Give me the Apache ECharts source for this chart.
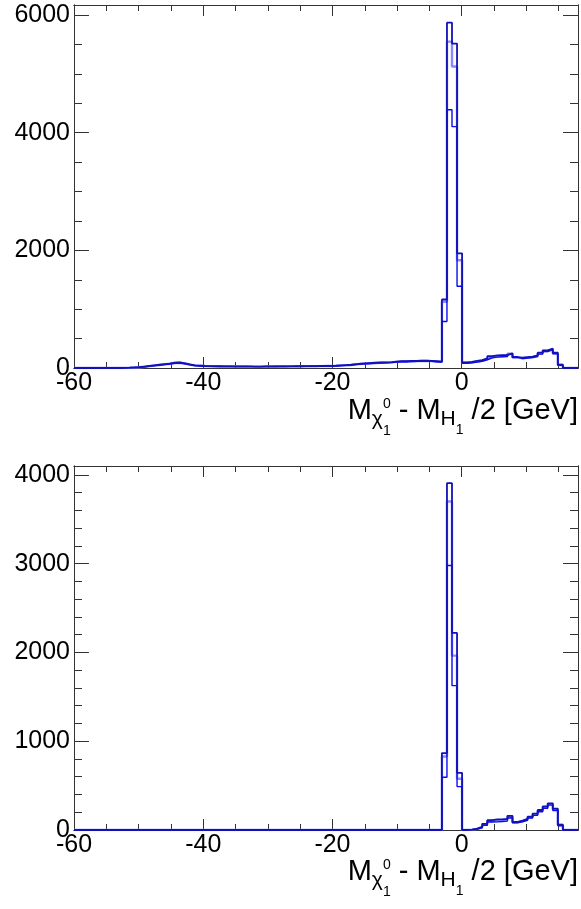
<!DOCTYPE html>
<html><head><meta charset="utf-8">
<script src="https://cdn.jsdelivr.net/npm/echarts@6/dist/echarts.min.js"></script>
<style>html,body{margin:0;padding:0;background:#fff}#c{width:581px;height:909px}</style>
</head><body><div id="c"></div>
<script>
// Histogram binning (from the reference axis)
const xMin = -60, xMax = 18, nBins = 100;
const xTickLabels = [-60, -40, -20, 0];
const topYTicks = [0, 2000, 4000, 6000];
const botYTicks = [0, 1000, 2000, 3000, 4000];

// Top panel: three overlaid histograms
const topDark = [0,0,0,0,0,0,0,0,0,2,
 5,10,15,25,35,45,55,65,75,90,
 95,80,60,45,40,35,32,30,30,28,
 28,27,27,26,26,25,25,26,27,27,
 28,28,29,30,30,31,32,33,34,35,
 36,38,45,50,55,65,75,80,85,90,
 95,95,100,110,115,115,120,120,125,125,
 120,115,110,1164,5870,5514,1949,95,105,120,
 135,165,200,215,220,220,250,180,175,185,
 195,215,260,300,330,260,55,0,0,0];
const topLight = [0,0,0,0,0,0,0,0,0,1,
 4,8,13,22,32,42,52,62,72,85,
 90,76,57,42,37,33,30,28,28,27,
 27,26,25,25,24,24,24,25,25,26,
 27,27,28,28,29,30,30,31,32,33,
 34,36,42,47,52,62,70,76,80,86,
 90,92,96,104,110,110,115,116,120,120,
 116,110,105,1125,5548,5124,1831,88,98,110,
 125,152,185,200,205,208,242,180,166,175,
 185,205,248,290,320,250,52,0,0,0];
const topBlue = [0,0,0,0,0,0,0,0,0,0,
 3,7,12,20,30,40,48,58,68,80,
 85,72,55,40,35,31,28,27,26,25,
 25,24,24,23,23,23,23,24,24,25,
 26,26,27,27,28,28,29,30,30,31,
 32,34,40,44,50,58,66,72,76,82,
 86,88,92,100,105,106,110,112,115,115,
 112,106,100,790,4390,4102,1390,80,90,100,
 115,140,172,185,190,195,232,190,160,168,
 178,196,236,280,312,242,48,0,0,0];

// Bottom panel
const botDark = [0,0,0,0,0,0,0,0,0,0,
 0,0,0,0,0,0,0,0,0,0,
 0,0,0,0,0,0,0,0,0,0,
 0,0,0,0,0,0,0,0,0,0,
 0,0,0,0,0,0,0,0,0,0,
 0,0,0,0,0,0,0,0,0,0,
 0,0,0,0,0,0,0,0,0,0,
 0,0,0,866,3906,2220,644,0,5,15,
 35,70,110,120,120,125,160,90,105,125,
 150,185,225,265,300,240,60,0,0,0];
const botLight = [0,0,0,0,0,0,0,0,0,0,
 0,0,0,0,0,0,0,0,0,0,
 0,0,0,0,0,0,0,0,0,0,
 0,0,0,0,0,0,0,0,0,0,
 0,0,0,0,0,0,0,0,0,0,
 0,0,0,0,0,0,0,0,0,0,
 0,0,0,0,0,0,0,0,0,0,
 0,0,0,828,3700,1964,578,0,4,12,
 30,62,102,110,112,118,150,88,100,120,
 145,178,218,258,292,232,56,0,0,0];
const botBlue = [0,0,0,0,0,0,0,0,0,0,
 0,0,0,0,0,0,0,0,0,0,
 0,0,0,0,0,0,0,0,0,0,
 0,0,0,0,0,0,0,0,0,0,
 0,0,0,0,0,0,0,0,0,0,
 0,0,0,0,0,0,0,0,0,0,
 0,0,0,0,0,0,0,0,0,0,
 0,0,0,595,2980,1626,489,0,3,10,
 25,52,90,92,95,100,135,80,92,110,
 135,165,205,245,280,220,48,0,0,0];

const FONT = '"Liberation Sans", Arial, Helvetica, sans-serif';
const LABEL_SIZE = 25;
const AX = '#333333';

function steps(vals) {
  const w = (xMax - xMin) / nBins;
  const d = vals.map((v, i) => [xMin + i * w, v]);
  d.push([xMax, vals[vals.length - 1]]);
  return d;
}

const grids = [
  {left: 74, top: 5, width: 504, height: 363},
  {left: 74, top: 466, width: 504, height: 364}
];
const yConf = [
  {max: 6170, major: 2000, minor: 500},
  {max: 4100, major: 1000, minor: 200}
];

const xAxes = [], yAxes = [];
grids.forEach((g, gi) => {
  const base = {type: 'value', gridIndex: gi, min: xMin, max: xMax, splitLine: {show: false},
    axisLine: {show: true, onZero: false, lineStyle: {color: AX, width: 1}}};
  xAxes.push(Object.assign({}, base, {position: 'bottom', interval: 20,
    axisTick: {inside: true, length: 11, lineStyle: {color: AX}},
    axisLabel: {show: true, margin: 3, fontSize: LABEL_SIZE, fontFamily: FONT, color: '#000',
      showMaxLabel: false,
      formatter: v => (xTickLabels.indexOf(v) >= 0 ? String(v) : '')}}));
  xAxes.push(Object.assign({}, base, {position: 'bottom', interval: 5,
    axisTick: {inside: true, length: 6, lineStyle: {color: AX}}, axisLabel: {show: false}}));
  xAxes.push(Object.assign({}, base, {position: 'top', interval: 20,
    axisTick: {inside: true, length: 11, lineStyle: {color: AX}}, axisLabel: {show: false}}));
  xAxes.push(Object.assign({}, base, {position: 'top', interval: 5,
    axisTick: {inside: true, length: 6, lineStyle: {color: AX}}, axisLabel: {show: false}}));

  const yc = yConf[gi];
  const ticks = gi === 0 ? topYTicks : botYTicks;
  const ybase = {type: 'value', gridIndex: gi, min: 0, max: yc.max, splitLine: {show: false},
    axisLine: {show: true, onZero: false, lineStyle: {color: AX, width: 1}}};
  yAxes.push(Object.assign({}, ybase, {position: 'left', interval: yc.major,
    axisTick: {inside: true, length: 15, lineStyle: {color: AX}},
    axisLabel: {show: true, margin: 4, fontSize: LABEL_SIZE, fontFamily: FONT, color: '#000',
      showMaxLabel: false,
      formatter: v => (ticks.indexOf(v) >= 0 ? String(v) : '')}}));
  yAxes.push(Object.assign({}, ybase, {position: 'left', interval: yc.minor,
    axisTick: {inside: true, length: 8, lineStyle: {color: AX}}, axisLabel: {show: false}}));
  yAxes.push(Object.assign({}, ybase, {position: 'right', interval: yc.major,
    axisTick: {inside: true, length: 15, lineStyle: {color: AX}}, axisLabel: {show: false}}));
  yAxes.push(Object.assign({}, ybase, {position: 'right', interval: yc.minor,
    axisTick: {inside: true, length: 8, lineStyle: {color: AX}}, axisLabel: {show: false}}));
});

function histSeries(vals, gi, color, width) {
  return {type: 'line', xAxisIndex: gi * 4, yAxisIndex: gi * 4, data: steps(vals), step: 'end',
    showSymbol: false, symbol: 'none', silent: true,
    lineStyle: {color: color, width: width}};
}
const C_LIGHT = '#8a8aff', C_BLUE = '#0a0af5', C_DARK = '#1212b4';
const series = [
  histSeries(topLight, 0, C_LIGHT, 2.4),
  histSeries(topBlue, 0, C_BLUE, 1.4),
  histSeries(topDark, 0, C_DARK, 1.8),
  histSeries(botLight, 1, C_LIGHT, 2.4),
  histSeries(botBlue, 1, C_BLUE, 1.4),
  histSeries(botDark, 1, C_DARK, 1.8)
];

// Axis title with sub/superscripts, laid out right-aligned to the frame edge
const cnv = document.createElement('canvas').getContext('2d');
function measure(t, s) { cnv.font = s + 'px ' + FONT; return cnv.measureText(t).width; }
const titlePieces = [
  {t: 'M', s: 29, dy: 0, adv: true},
  {t: 'χ', s: 21, dy: 6, adv: true},
  {t: '1', s: 14, dy: 16, adv: false},
  {t: '0', s: 14, dy: -11, adv: true},
  {t: ' - M', s: 29, dy: 0, adv: true},
  {t: 'H', s: 21, dy: 6, adv: true},
  {t: '1', s: 14, dy: 15, adv: true},
  {t: ' /2 [GeV]', s: 29, dy: 0, adv: true}
];
function titleGraphics(baseline, right) {
  let total = 0;
  titlePieces.forEach(p => { if (p.adv) total += measure(p.t, p.s); });
  let x = right - total;
  const out = [];
  titlePieces.forEach(p => {
    out.push({type: 'text', x: x, y: baseline + p.dy - 0.32 * p.s, silent: true,
      style: {text: p.t, font: p.s + 'px ' + FONT, fill: '#000', textAlign: 'left', textVerticalAlign: 'middle'}});
    if (p.adv) x += measure(p.t, p.s);
  });
  return out;
}

const chart = echarts.init(document.getElementById('c'), null, {renderer: 'canvas'});
chart.setOption({
  animation: false,
  backgroundColor: '#fff',
  grid: grids,
  xAxis: xAxes,
  yAxis: yAxes,
  series: series,
  graphic: titleGraphics(420, 578).concat(titleGraphics(881, 578))
});
</script></body></html>
